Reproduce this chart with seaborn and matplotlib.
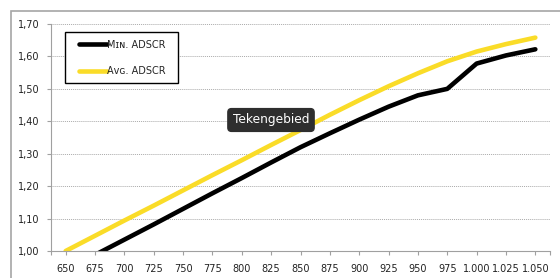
import numpy as np
import pandas as pd
import seaborn as sns
import matplotlib
matplotlib.use("Agg")
import matplotlib.pyplot as plt
from matplotlib.patches import Rectangle
from matplotlib.ticker import FuncFormatter

# ---- data ----
categories = [650, 675, 700, 725, 750, 775, 800, 825, 850, 875, 900, 925,
              950, 975, 1000, 1025, 1050]
x_labels = ["650", "675", "700", "725", "750", "775", "800", "825", "850",
            "875", "900", "925", "950", "975", "1.000", "1.025", "1.050"]
min_adscr = [0.94, 0.988, 1.035, 1.082, 1.13, 1.178, 1.225, 1.273, 1.32,
             1.363, 1.405, 1.445, 1.48, 1.50, 1.578, 1.603, 1.622]
avg_adscr = [1.00, 1.047, 1.094, 1.14, 1.187, 1.234, 1.28, 1.327, 1.373,
             1.42, 1.465, 1.508, 1.548, 1.585, 1.615, 1.638, 1.658]
series_names = ["Mɪɴ. ADSCR", "Aᴠɢ. ADSCR"]
y_ticks = [1.00, 1.10, 1.20, 1.30, 1.40, 1.50, 1.60, 1.70]

df = pd.DataFrame({
    "idx": list(range(len(categories))) * 2,
    "value": min_adscr + avg_adscr,
    "series": [series_names[0]] * len(categories) + [series_names[1]] * len(categories),
})

sns.set_theme(style="white")
plt.rcParams["font.family"] = ["DejaVu Sans"]

W, H = 560, 278
fig = plt.figure(figsize=(W / 100, H / 100), dpi=100)
fig.patch.set_facecolor("white")

# outer chart-area frame
fig.patches.append(Rectangle((11 / W, -0.1), 1.2, 1 - 10.5 / H + 0.1,
                             transform=fig.transFigure, fill=False,
                             edgecolor="#a6a6a6", linewidth=1.2))

ax = fig.add_axes([51 / W, 1 - 251 / H, (550 - 51) / W, (251 - 24) / H])
ax.set_facecolor("white")

palette = {series_names[0]: "#000000", series_names[1]: "#FADC28"}
sns.lineplot(data=df, x="idx", y="value", hue="series", palette=palette,
             linewidth=3.3, ax=ax, legend=True, sort=False)
for ln in ax.lines:
    ln.set_solid_capstyle("round")
    ln.set_solid_joinstyle("round")

ax.set_xlim(-0.5, len(categories) - 0.5)
ax.set_ylim(1.0, 1.7)
ax.set_xticks(range(len(categories)))
ax.set_xticklabels(x_labels)
ax.set_xticks([-0.5, len(categories) - 0.5], minor=True)
ax.set_yticks(y_ticks)
ax.yaxis.set_major_formatter(FuncFormatter(lambda v, p: f"{v:.2f}".replace(".", ",")))
ax.set_xlabel("")
ax.set_ylabel("")

for s in ["top", "right"]:
    ax.spines[s].set_visible(False)
for s in ["left", "bottom"]:
    ax.spines[s].set_color("#a0a0a0")
    ax.spines[s].set_linewidth(0.8)

ax.tick_params(axis="both", which="both", direction="out", length=3,
               color="#a0a0a0", width=0.8, labelsize=7, labelcolor="#222222",
               left=True, bottom=True)
ax.tick_params(axis="y", pad=5)
ax.tick_params(axis="x", pad=6)

ax.yaxis.grid(True, linestyle=(0, (1, 1)), color="#aaaaaa", linewidth=0.7)
ax.xaxis.grid(False)
ax.set_axisbelow(True)

# legend (frame drawn separately for exact size)
leg = ax.legend(loc="upper left", bbox_to_anchor=(81 / W - 0.004, 1 - 39.5 / H),
                bbox_transform=fig.transFigure,
                frameon=False, fontsize=7, handlelength=2.9,
                handletextpad=0.0, labelspacing=1.7,
                borderpad=0.0, borderaxespad=0.0)
for h in leg.get_lines():
    h.set_linewidth(3.3)
ax.add_artist(Rectangle((65 / W, 1 - 83 / H), (178 - 65) / W, (83 - 32) / H,
                        transform=fig.transFigure, fill=True,
                        facecolor="white", edgecolor="black", linewidth=1.0,
                        zorder=4))
leg.set_zorder(5)

# tooltip
fig.text(271 / W, 1 - 120 / H, "Tekengebied", ha="center", va="center",
         color="white", fontsize=8.8,
         bbox=dict(boxstyle="round,pad=0.4,rounding_size=0.3",
                   facecolor="#2e2e2e", edgecolor="#2e2e2e"))

fig.savefig("out.png", dpi=100, facecolor="white")
